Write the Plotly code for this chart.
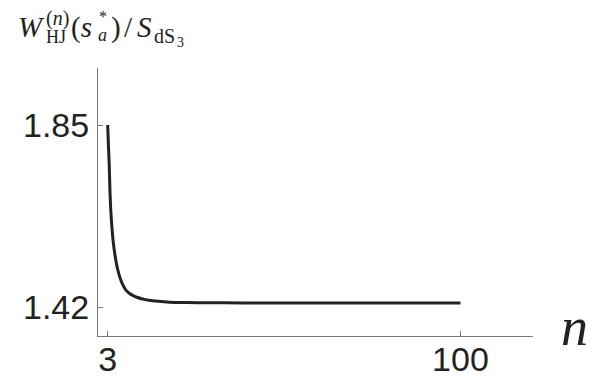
import plotly.graph_objects as go

# Data
n_vals = [3, 3.2, 3.4, 3.6, 3.8, 4.1, 4.5, 5.0, 5.5, 6, 6.5, 7, 8, 9, 10, 11, 13, 16, 20, 25, 30, 40, 50, 75, 100]
w_vals = [1.85, 1.80, 1.76, 1.70, 1.655, 1.615, 1.575, 1.543, 1.518, 1.500, 1.486, 1.475,
          1.460, 1.452, 1.447, 1.443, 1.438, 1.434, 1.4315, 1.4305, 1.4300, 1.4297, 1.4295,
          1.4294, 1.4293]
x_ticks = [3, 100]
x_tick_labels = ["3", "100"]
y_ticks = [1.42, 1.85]
y_tick_labels = ["1.42", "1.85"]

OFF = 8  # page body margin
PAGE_W, PAGE_H = 613, 377
W, H = PAGE_W - OFF, PAGE_H - OFF
L, R, T, B = 98 - OFF, 80, 68 - OFF, 41
PW, PH = W - L - R, H - T - B

def px(x):
    return (x - OFF - L) / PW

def py(y):
    return (H - B - (y - OFF)) / PH

fig = go.Figure()
fig.add_trace(go.Scatter(x=n_vals, y=w_vals, mode="lines",
                         line=dict(color="#222222", width=3, shape="spline", smoothing=0.5),
                         hoverinfo="skip", showlegend=False))

axis_common = dict(showline=True, linecolor="#7a7a7a", linewidth=1, ticks="inside",
                   ticklen=5, tickcolor="#7a7a7a", tickwidth=1, showgrid=False,
                   zeroline=False, automargin=False,
                   tickfont=dict(family="Liberation Sans, Arial", size=34, color="#222222"))

fig.update_xaxes(range=[0.33, 119.95], tickvals=x_ticks, ticktext=x_tick_labels,
                 ticklabelstandoff=-7, **axis_common)
fig.update_yaxes(range=[1.3515, 1.9847], tickvals=y_ticks, ticktext=y_tick_labels,
                 ticklabelstandoff=1, **axis_common)

SERIF = "Liberation Serif, Times New Roman, serif"

def lab(text, x_left, baseline, size):
    # place text with given left x and baseline (page pixels)
    center = baseline - 0.3375 * size
    fig.add_annotation(text=text, x=px(x_left), y=py(center), xref="paper", yref="paper",
                       xanchor="left", yanchor="middle", showarrow=False, borderpad=0,
                       font=dict(family=SERIF, size=size, color="#222222"))

lab("<i>W</i>", 17, 37, 29)
lab("(<i>n</i>)", 45, 25, 20)
lab("HJ", 45, 43, 18)
lab("(<i>s</i>", 70, 37, 29)
lab("*", 98, 22, 16)
lab("<i>a</i>", 97, 41, 18)
lab(")", 110, 37, 29)
lab("/", 123, 37, 29)
lab("<i>S</i>", 136, 37, 29)
lab("dS", 153, 43, 20)
lab("3", 176, 47, 14)
lab("<i>n</i>", 560, 345, 54)

fig.update_layout(width=W, height=H, autosize=False,
                  margin=dict(l=L, r=R, t=T, b=B, pad=0),
                  paper_bgcolor="white", plot_bgcolor="white")

fig.write_html("out.html")
